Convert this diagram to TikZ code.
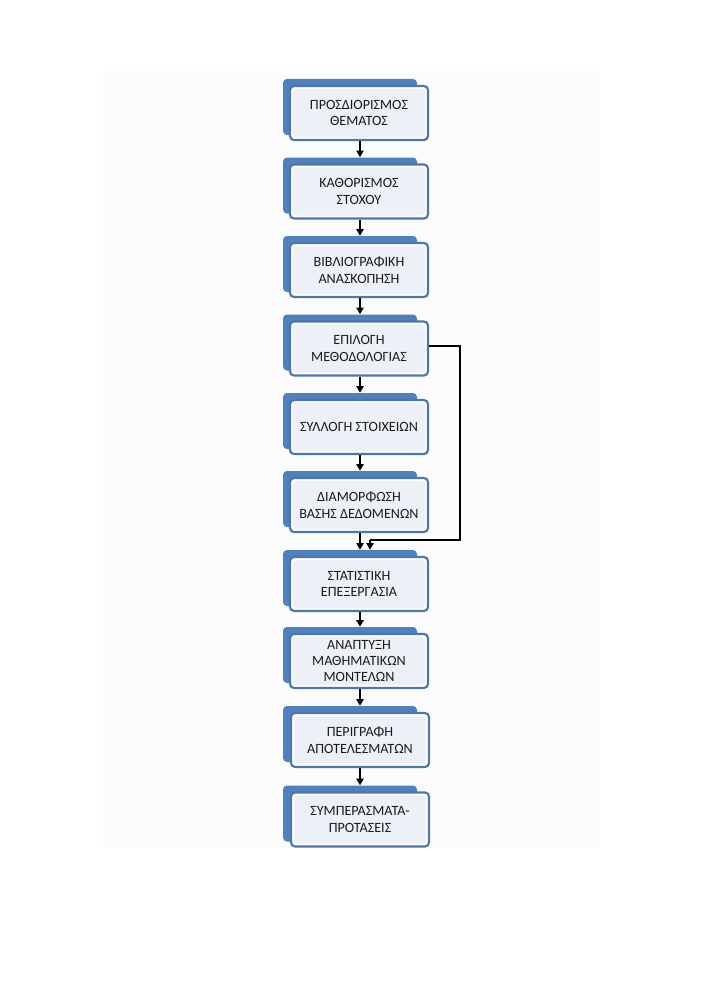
\documentclass[tikz,border=0pt]{standalone}
\usepackage{fontspec}
\setmainfont{Carlito}
\usetikzlibrary{arrows.meta,calc}
\definecolor{backblue}{HTML}{4F81BD}
\definecolor{edgeblue}{HTML}{4C76AE}
\definecolor{innerfill}{HTML}{EDF1F7}
\definecolor{pagebg}{HTML}{FCFCFC}
\definecolor{txt}{HTML}{1A1A1A}
\tikzset{
  backbox/.style={fill=backblue, rounded corners=3pt, minimum width=134*0.75pt, minimum height=56*0.75pt, inner sep=0pt, draw=none},
  frontbox/.style={draw=edgeblue, line width=1.6pt, fill=white, rounded corners=3pt,
    minimum width=138*0.75pt, minimum height=54*0.75pt, inner sep=0pt, align=center,
    text=txt, font=\fontsize{10.6}{12.3}\selectfont,
    path picture={\fill[innerfill] ([shift={(2.2pt,2.2pt)}]path picture bounding box.south west) rectangle ([shift={(-2.2pt,-2.2pt)}]path picture bounding box.north east);}},
  arr/.style={draw=black, line width=1.1pt, -{Triangle[length=5pt,width=5.5pt]}},
  link/.style={draw=black, line width=1.1pt}
}
\newcommand{\stagebox}[4]{%
  \node[backbox] (b#1) at (350,#2-6) {};
  \node[frontbox] (n#1) at (359+#3,#2) {#4};
}
\begin{document}
\begin{tikzpicture}[x=0.75pt,y=-0.75pt]
\useasboundingbox (0,0) rectangle (707,999);
\fill[white] (0,0) rectangle (707,999);
\fill[pagebg] (103,71) rectangle (600,848);
\stagebox{1}{113}{0}{ΠΡΟΣΔΙΟΡΙΣΜΟΣ\\ΘΕΜΑΤΟΣ}
\stagebox{2}{191.5}{0}{ΚΑΘΟΡΙΣΜΟΣ\\ΣΤΟΧΟΥ}
\stagebox{3}{270}{0}{ΒΙΒΛΙΟΓΡΑΦΙΚΗ\\ΑΝΑΣΚΟΠΗΣΗ}
\stagebox{4}{348.5}{0}{ΕΠΙΛΟΓΗ\\ΜΕΘΟΔΟΛΟΓΙΑΣ}
\stagebox{5}{427}{0}{ΣΥΛΛΟΓΗ ΣΤΟΙΧΕΙΩΝ}
\stagebox{6}{505}{0}{ΔΙΑΜΟΡΦΩΣΗ\\ΒΑΣΗΣ ΔΕΔΟΜΕΝΩΝ}
\stagebox{7}{584}{0}{ΣΤΑΤΙΣΤΙΚΗ\\ΕΠΕΞΕΡΓΑΣΙΑ}
\stagebox{8}{661}{0}{ΑΝΑΠΤΥΞΗ\\ΜΑΘΗΜΑΤΙΚΩΝ\\ΜΟΝΤΕΛΩΝ}
\stagebox{9}{740}{1}{ΠΕΡΙΓΡΑΦΗ\\ΑΠΟΤΕΛΕΣΜΑΤΩΝ}
\stagebox{10}{819.5}{1}{ΣΥΜΠΕΡΑΣΜΑΤΑ-\\ΠΡΟΤΑΣΕΙΣ}
\foreach \i/\j in {1/2,2/3,3/4,4/5,5/6,6/7,7/8,8/9,9/10}{
  \draw[arr] (360,0 |- n\i.south) -- (360,0 |- b\j.north);
}
\coordinate (c0) at ([yshift=2pt]n4.east);
\coordinate (c1) at (460,540);
\coordinate (c2) at (370,540);
\draw[link] (c0) -- (c1 |- c0) -- (c1) -- (c2);
\draw[arr] (c2) -- (c2 |- b7.north);
\end{tikzpicture}
\end{document}
